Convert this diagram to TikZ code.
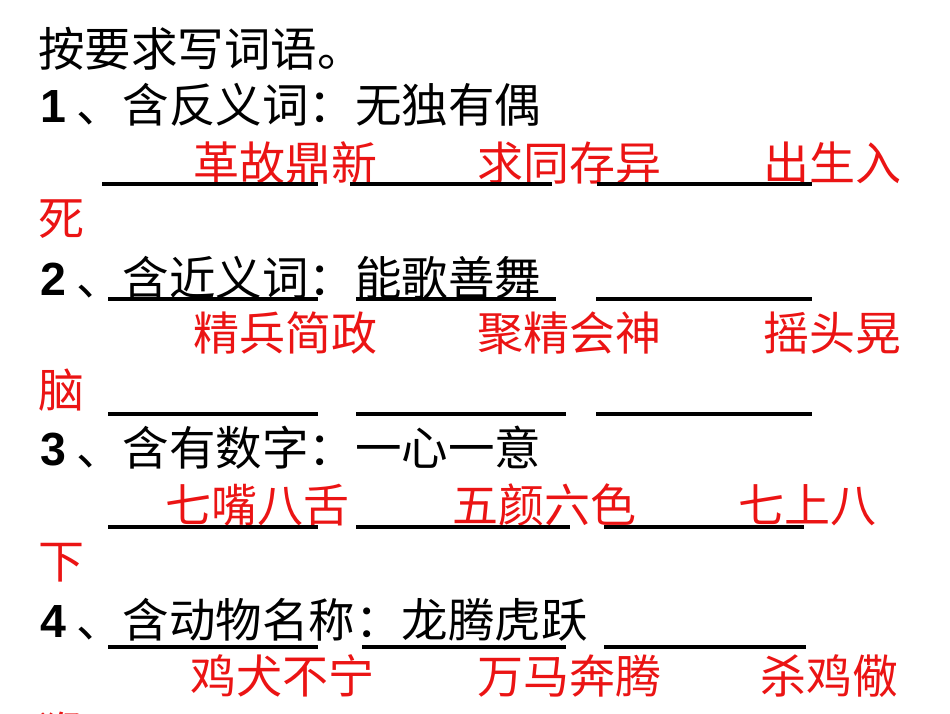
\documentclass[tikz,border=0pt]{standalone}
\usepackage{fontspec}
\newfontfamily\cjk{Noto Sans CJK SC}
\newfontfamily\dig{Liberation Sans}
\definecolor{rd}{RGB}{235,20,20}
\begin{document}
\begin{tikzpicture}[x=1pt,y=-1pt,
  bk/.style={anchor=base west,inner sep=0pt,font=\cjk\fontsize{46.5}{46}\selectfont},
  rt/.style={anchor=base west,inner sep=0pt,text=rd,font=\cjk\fontsize{46}{46}\selectfont},
  ul/.style={line width=4pt}]
\useasboundingbox[fill=white] (0,0) rectangle (950,713);
\begin{scope}
\clip (0,0) rectangle (950,713);
\node[bk] (t) at (38,66) {按要求写词语。};
% row 1
\node[bk] (n1) at (40,122) {\dig\bfseries 1};
\node[bk] (a1) at (76,122) {、含反义词：无独有偶};
\node[rt] (r1a) at (193,180) {革故鼎新};
\node[rt] (r1b) at (477,180) {求同存异};
\node[rt] (r1c) at (763,180) {出生入};
\node[rt] (r1d) at (38,235) {死};
\draw[ul] (102,184) -- (318,184) (350,184) -- (552,184) (597,184) -- (812,184);
% row 2
\node[bk] (n2) at (40,295) {\dig\bfseries 2};
\node[bk] (a2) at (76,295) {、含近义词：能歌善舞};
\draw[ul] (108,299) -- (318,299) (356,299) -- (556,299) (596,299) -- (812,299);
\node[rt] (r2a) at (193,350) {精兵简政};
\node[rt] (r2b) at (477,350) {聚精会神};
\node[rt] (r2c) at (763,350) {摇头晃};
\node[rt] (r2d) at (38,407) {脑};
\draw[ul] (108,414) -- (318,414) (356,414) -- (566,414) (596,414) -- (812,414);
% row 3
\node[bk] (n3) at (40,465) {\dig\bfseries 3};
\node[bk] (a3) at (76,465) {、含有数字：一心一意};
\node[rt] (r3a) at (165,522) {七嘴八舌};
\node[rt] (r3b) at (452,522) {五颜六色};
\node[rt] (r3c) at (738,522) {七上八};
\node[rt] (r3d) at (38,578) {下};
\draw[ul] (108,527) -- (318,527) (356,527) -- (570,527) (604,527) -- (804,527);
% row 4
\node[bk] (n4) at (40,637) {\dig\bfseries 4};
\node[bk] (a4) at (76,637) {、含动物名称：龙腾虎跃};
\draw[ul] (108,647) -- (318,647) (362,647) -- (566,647) (604,647) -- (806,647);
\node[rt] (r4a) at (190,693) {鸡犬不宁};
\node[rt] (r4b) at (477,693) {万马奔腾};
\node[rt] (r4c) at (760,693) {杀鸡儆};
\node[rt] (r4d) at (38,750) {猴};
\end{scope}
\end{tikzpicture}
\end{document}
